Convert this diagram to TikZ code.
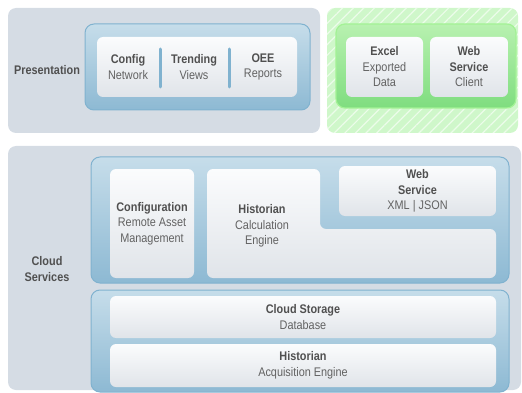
\documentclass[tikz,border=0pt]{standalone}
\usepackage{fontspec}
\setmainfont{Liberation Sans}[FakeStretch=0.87]
\usetikzlibrary{patterns.meta}
\definecolor{panelgray}{HTML}{D5DCE4}
\definecolor{tierblue}{HTML}{C6DDEA}
\definecolor{tierbluedark}{HTML}{8DB9D3}
\definecolor{tierborder}{HTML}{80B2CF}
\definecolor{cardtop}{HTML}{FBFCFD}
\definecolor{cardbottom}{HTML}{E0E4E9}
\definecolor{hatchgreen}{HTML}{CFF7CA}
\definecolor{tiergreen}{HTML}{B8F1B0}
\definecolor{tiergreendark}{HTML}{7FDD7F}
\definecolor{greenborder}{HTML}{A3F295}
\definecolor{labelgray}{HTML}{505050}
\definecolor{textgray}{HTML}{626262}
\newcommand{\heading}[1]{{\color{labelgray}\bfseries #1}}
\tikzset{
  panel/.style={fill=panelgray,rounded corners=8pt},
  tier/.style={draw=tierborder,line width=1pt,top color=tierblue,bottom color=tierbluedark,rounded corners=9pt},
  greentier/.style={draw=greenborder,line width=1.2pt,top color=tiergreen,bottom color=tiergreendark,rounded corners=9pt},
  card/.style={top color=cardtop,bottom color=cardbottom,rounded corners=6pt,inner sep=0pt},
  divider/.style={tierborder,line width=3pt,line cap=round},
  sidelabel/.style={font=\bfseries\fontsize{12.5}{16}\selectfont,text=labelgray,align=center},
  cardtext/.style={font=\fontsize{12.5}{15.5}\selectfont,text=textgray,align=center}
}
\begin{document}
\begin{tikzpicture}[x=1pt,y=-1pt]
\useasboundingbox (0,0) rectangle (522,393);
\clip (0,0) rectangle (522,393);
% panels
\path[panel] (8,8) rectangle (320,133);
\path[panel] (8,146) rectangle (521,390);
\fill[hatchgreen,rounded corners=8pt] (327,8) rectangle (518,133);
\fill[pattern={Lines[angle=45,distance=7.5pt,line width=1.2pt]},pattern color=white!60!hatchgreen,rounded corners=8pt] (327,8) rectangle (518,133);
% presentation tier
\path[tier] (85,24) rectangle (310,110);
\node[card,minimum width=200pt,minimum height=60pt] (prescard) at (197,67) {};
\coordinate (div1top) at (160,49);
\coordinate (div1bot) at (160,87);
\coordinate (div2top) at (229,49);
\coordinate (div2bot) at (229,87);
\draw[divider] (div1top) -- (div1bot);
\draw[divider] (div2top) -- (div2bot);
\node[cardtext] (config) at (128,67) {\heading{Config}\\Network};
\node[cardtext] (trending) at (194,67) {\heading{Trending}\\Views};
\node[cardtext] (oee) at (263,67) {\heading{OEE}\\Reports};
\node[sidelabel] (presentation) at (47,70) {Presentation};
% client tier
\path[greentier] (336,24) rectangle (516,108);
\node[card,minimum width=77pt,minimum height=60pt,cardtext] (excel) at (384.5,67) {\heading{Excel}\\Exported\\Data};
\node[card,minimum width=78pt,minimum height=60pt,cardtext] (client) at (469,67) {\heading{Web}\\\heading{Service}\\Client};
% cloud services
\node[sidelabel] (cloud) at (47,269) {Cloud\\Services};
\path[tier] (91,157) rectangle (509,283);
\node[card,minimum width=84pt,minimum height=109pt,cardtext] (configuration) at (152,223.5) {\heading{Configuration}\\Remote Asset\\Management};
\shade[top color=cardtop,bottom color=cardbottom,rounded corners=6pt] (207,169) -- (320,169) -- (320,229) -- (496,229) -- (496,278) -- (207,278) -- cycle;
\node[cardtext] (calc) at (262,226) {\heading{Historian}\\Calculation\\Engine};
\node[card,minimum width=157pt,minimum height=50pt,cardtext] (webservice) at (417.5,191) {\heading{Web}\\\heading{Service}\\XML | JSON};
% storage tier
\path[tier] (91,290) rectangle (509,392);
\node[card,minimum width=386pt,minimum height=42pt,cardtext] (storage) at (303,317) {\heading{Cloud Storage}\\Database};
\node[card,minimum width=386pt,minimum height=43pt,cardtext] (acquisition) at (303,365.5) {\heading{Historian}\\Acquisition Engine};
\end{tikzpicture}
\end{document}
